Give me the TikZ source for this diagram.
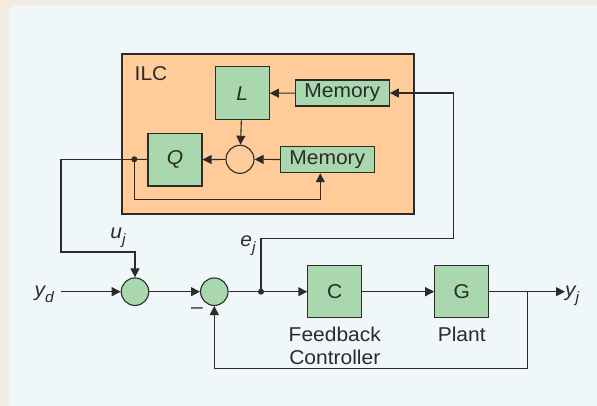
\documentclass[tikz,border=0pt]{standalone}
\usepackage{fontspec}
\setmainfont{Liberation Sans}[FakeStretch=1.05]
\usetikzlibrary{arrows.meta}
\definecolor{outerbg}{HTML}{F3ECE3}
\definecolor{innerbg}{HTML}{EFF7F9}
\definecolor{blockgreen}{HTML}{A9D8AE}
\definecolor{ilcorange}{HTML}{FFCC99}
\definecolor{linecol}{HTML}{2B2B2B}
\tikzset{
  blk/.style={draw=linecol, line width=1.1pt, fill=blockgreen, minimum width=54pt, minimum height=52pt, inner sep=0pt, font=\fontsize{20}{22}\selectfont, text=linecol},
  memblk/.style={draw=linecol, line width=1.1pt, fill=blockgreen, minimum width=94pt, minimum height=26pt, inner sep=0pt, font=\fontsize{20}{22}\selectfont, text=linecol},
  sumc/.style={circle, draw=linecol, line width=1.1pt, fill=blockgreen, minimum size=27.5pt, inner sep=0pt},
  sumw/.style={circle, draw=linecol, line width=1.1pt, fill=ilcorange, minimum size=28pt, inner sep=0pt},
  junc/.style={circle, fill=linecol, minimum size=6pt, inner sep=0pt},
  conn/.style={draw=linecol, line width=1.1pt},
  arr/.style={conn, -{Triangle[length=9pt,width=9pt]}},
  lbl/.style={font=\fontsize{20}{23.5}\selectfont, text=linecol, inner sep=0pt},
}
\newcommand{\subj}[2]{{\itshape #1\raisebox{-6pt}{\fontsize{15}{15}\selectfont #2}}}
\begin{document}
\begin{tikzpicture}[x=1pt,y=-1pt]
\useasboundingbox (0,0) rectangle (597,406);
\fill[outerbg] (0,0) rectangle (597,406);
\fill[innerbg, rounded corners=9pt] (8.5,5.5) -- (610,5.5) -- (610,420) -- (8.5,420) -- cycle;
% ILC box
\draw[linecol, line width=1.1pt, fill=ilcorange] (122,54) rectangle (414,214);
\node[lbl, anchor=base west] (ilc) at (134.5,81) {ILC};
% ILC internals
\node[blk, minimum height=53pt] (L) at (242.3,93.3) {\itshape L};
\node[memblk] (mem1) at (342.3,93) {Memory};
\node[blk, minimum height=52.5pt] (Q) at (175,159.8) {\itshape Q};
\node[sumw] (sumI) at (240,159.3) {};
\node[memblk] (mem2) at (327.3,159.7) {Memory};
\node[junc] (dQ) at (134.3,159.3) {};
% main loop
\node[sumc] (s1) at (135,291.7) {};
\node[sumc] (s2) at (214.3,291.7) {};
\node[junc] (dE) at (261,291.7) {};
\node[blk] (C) at (334.8,291.7) {C};
\node[blk] (G) at (461.7,291.7) {G};
\coordinate (yd) at (61,291.7);
\coordinate (yj) at (565,291.7);
\coordinate (br) at (527.7,291.7);
\coordinate (ext) at (453.7,238.7);
\coordinate (mfb) at (320.3,199.3);
\coordinate (ul) at (61,252);
% labels
\node[lbl, anchor=base east] (ydl) at (54,296) {\subj{y}{d}};
\node[lbl, anchor=base west] (yjl) at (565,296) {\subj{y}{j}};
\node[lbl, anchor=base] (ujl) at (118,238.5) {\subj{u}{j}};
\node[lbl, anchor=base] (ejl) at (248,246.5) {\subj{e}{j}};
\node[lbl] (minus) at (197,311) {–};
\node[lbl, anchor=base] (fbl1) at (334.8,341) {Feedback};
\node[lbl, anchor=base] (fbl2) at (334.8,364.5) {Controller};
\node[lbl, anchor=base] (pl) at (461.7,341) {Plant};
% connectors inside ILC
\draw[arr] (mem1) -- (L);
\draw[arr] (L) -- (sumI);
\draw[arr] (mem2) -- (sumI);
\draw[arr] (sumI) -- (Q);
\draw[conn] (Q) -- (dQ.center);
\draw[arr] (dQ.center) |- (mfb) -- (mfb |- mem2.south);
% from ILC to loop
\draw[arr] (dQ.center) -| (ul) -| (s1);
\draw[arr] (yd) -- (s1);
\draw[arr] (s1) -- (s2);
\draw[conn] (s2) -- (dE.center);
\draw[arr] (dE.center) -- (C);
\draw[arr] (C) -- (G);
\draw[arr] (G) -- (yj);
\draw[arr] (br) |- (214.3,368.5) -- (s2);
\draw[arr] (dE.center) |- (ext) |- (mem1);
\end{tikzpicture}
\end{document}
